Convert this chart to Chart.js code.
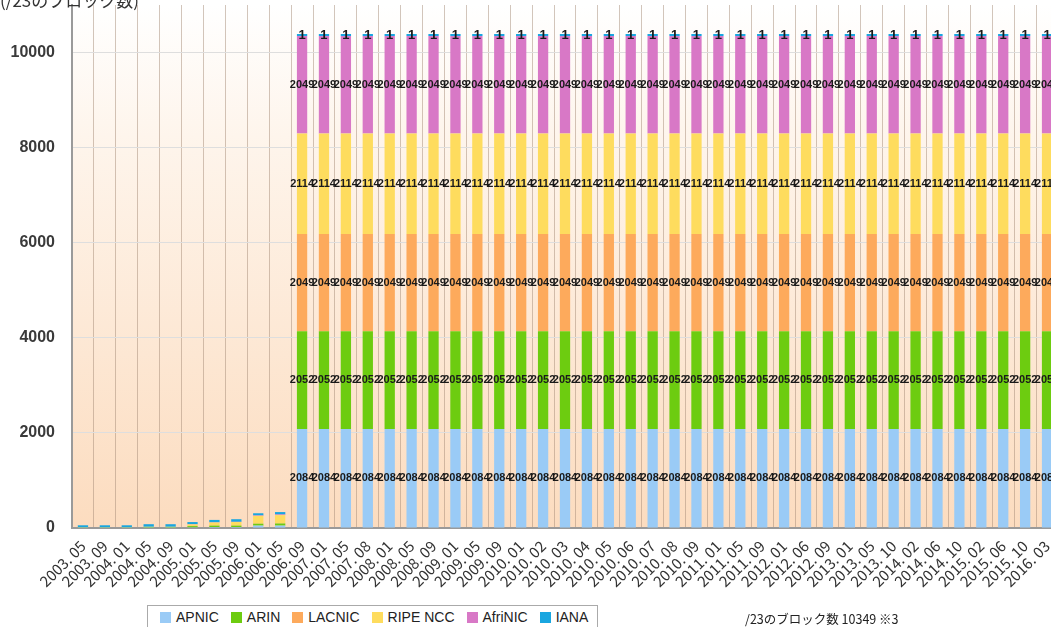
<!DOCTYPE html>
<html>
<head>
<meta charset="utf-8">
<script src="https://cdn.jsdelivr.net/npm/chart.js@4/dist/chart.umd.min.js"></script>
<style>
  html, body { margin: 0; padding: 0; background: #fff; overflow: hidden; }
  #wrap { position: relative; width: 1051px; height: 627px; overflow: hidden; }
  #c { position: absolute; left: 0; top: 0; }
  #title { position: absolute; left: 0; top: -13px; font: 17px "Noto Sans CJK JP", sans-serif; color: #333; }
  #legend { position: absolute; left: 147px; top: 605px; width: 451px; height: 30px; border: 1px solid #aaa; background: #fff; padding-left: 12px; box-sizing: border-box; font: 14px "Liberation Sans", Arial, sans-serif; color: #222; white-space: nowrap; }
  #legend span.item { display: inline-block; margin-right: 12px; line-height: 22px; }
  #legend span.sq { display: inline-block; width: 11px; height: 11px; margin-right: 5px; vertical-align: -1px; }
  #note { position: absolute; left: 745px; top: 609px; font: 12.5px "Noto Sans CJK JP", sans-serif; color: #222; }
</style>
</head>
<body>
<div id="wrap">
  <canvas id="c" width="1060" height="627"></canvas>
  <div id="title">(/23のブロック数)</div>
  <div id="legend"></div>
  <div id="note">/23のブロック数 10349 ※3</div>
</div>
<script>
/* ---- data ---- */
var months = [
  '2003. 05','2003. 09','2004. 01','2004. 05','2004. 09','2005. 01','2005. 05','2005. 09',
  '2006. 01','2006. 05','2006. 09','2007. 01','2007. 05','2007. 08','2008. 01','2008. 05',
  '2008. 09','2009. 01','2009. 05','2009. 09','2010. 01','2010. 02','2010. 03','2010. 04',
  '2010. 05','2010. 06','2010. 07','2010. 08','2010. 09','2011. 01','2011. 05','2011. 09',
  '2012. 01','2012. 06','2012. 09','2013. 01','2013. 05','2013. 10','2014. 02','2014. 06',
  '2014. 10','2015. 02','2015. 06','2015. 10','2016. 03'
];

// first 10 columns are the small early counts, the rest are the full /23 split
var N_FULL = 35;
function full(v) { var a = []; for (var i = 0; i < N_FULL; i++) a.push(v); return a; }

var apnic   = [5, 5, 5, 5, 5, 15, 20, 20, 50, 50].concat(full(2084));
var arin    = [5, 5, 5, 10, 10, 25, 30, 30, 40, 45].concat(full(2052));
var lacnic  = [0, 0, 0, 0, 0, 5, 5, 5, 5, 5].concat(full(2049));
var ripe    = [5, 5, 5, 10, 10, 30, 60, 70, 160, 170].concat(full(2114));
var afrinic = [0, 0, 0, 0, 0, 5, 5, 5, 10, 15].concat(full(2049));
var iana    = [30, 30, 25, 55, 55, 45, 50, 55, 45, 50].concat(full(1));

var yTicks = [0, 2000, 4000, 6000, 8000, 10000];

var series = [
  { label: 'APNIC',    data: apnic,   color: '#9acbf6' },
  { label: 'ARIN',     data: arin,    color: '#6dcc10' },
  { label: 'LACNIC',   data: lacnic,  color: '#fdaa5c' },
  { label: 'RIPE NCC', data: ripe,    color: '#fedc5e' },
  { label: 'AfriNIC',  data: afrinic, color: '#d878c6' },
  { label: 'IANA',     data: iana,    color: '#19a6e0' }
];

/* ---- plugins ---- */
var bgPlugin = {
  id: 'bg',
  beforeDraw: function(chart) {
    var a = chart.chartArea, ctx = chart.ctx;
    var g = ctx.createLinearGradient(0, a.top, 0, a.bottom);
    g.addColorStop(0, '#ffffff');
    g.addColorStop(0.25, '#fef5ec');
    g.addColorStop(1, '#fcdcbf');
    ctx.save();
    ctx.fillStyle = g;
    ctx.fillRect(a.left, a.top, a.right - a.left, a.bottom - a.top);
    ctx.restore();
  }
};

function colTotal(i) {
  var t = 0;
  series.forEach(function(s) { t += s.data[i]; });
  return t;
}

var valueLabels = {
  id: 'valueLabels',
  afterDatasetsDraw: function(chart) {
    var ctx = chart.ctx;
    ctx.save();
    ctx.fillStyle = '#1a1a1a';
    ctx.textAlign = 'center';
    ctx.textBaseline = 'middle';
    chart.data.datasets.forEach(function(ds, di) {
      // the tiny IANA count on top is printed a bit larger
      ctx.font = ds.label === 'IANA' ? 'bold 13px "Liberation Sans", Arial, sans-serif'
                                     : 'bold 11px "Liberation Sans", Arial, sans-serif';
      chart.getDatasetMeta(di).data.forEach(function(el, i) {
        if (colTotal(i) < 5000) return;
        ctx.fillText(String(ds.data[i]), el.x, (el.y + el.base) / 2);
      });
    });
    ctx.restore();
  }
};

/* ---- legend ---- */
var lg = document.getElementById('legend');
series.forEach(function(s) {
  var it = document.createElement('span');
  it.className = 'item';
  it.innerHTML = '<span class="sq" style="background:' + s.color + '"></span>' + s.label;
  lg.appendChild(it);
});

/* ---- chart ---- */
new Chart(document.getElementById('c'), {
  type: 'bar',
  data: {
    labels: months,
    datasets: series.map(function(s) {
      return {
        label: s.label,
        data: s.data,
        backgroundColor: s.color,
        borderWidth: 0,
        barPercentage: 0.47,
        categoryPercentage: 1,
        minBarLength: s.label === 'IANA' ? 2 : 0
      };
    })
  },
  options: {
    responsive: false,
    animation: false,
    layout: { autoPadding: false, padding: { top: 5, right: 2, left: 0, bottom: 0 } },
    plugins: { legend: { display: false }, tooltip: { enabled: false } },
    scales: {
      x: {
        stacked: true,
        grid: { color: 'rgba(165,140,120,0.5)', drawTicks: false, offset: true },
        border: { color: '#9a9a9a', width: 2 },
        ticks: {
          minRotation: 45, maxRotation: 45, autoSkip: false, padding: 9,
          color: '#333', font: { family: '"Noto Sans CJK JP", sans-serif', size: 15 }
        },
        afterFit: function(s) {
          s.height = 99;
          s.paddingLeft = 0; s.paddingRight = 0; s.paddingTop = 0; s.paddingBottom = 0;
        }
      },
      y: {
        stacked: true,
        min: 0, max: 11000,
        grid: { color: '#dedede', drawTicks: false },
        border: { color: '#9a9a9a', width: 2 },
        afterBuildTicks: function(s) { s.ticks = yTicks.map(function(v) { return { value: v }; }); },
        ticks: {
          padding: 17, color: '#3a3a3a',
          font: { family: '"Liberation Sans", Arial, sans-serif', size: 16, weight: 'bold' },
          callback: function(v) { return String(v); }
        },
        afterFit: function(s) {
          s.width = 72;
          s.paddingLeft = 0; s.paddingRight = 0; s.paddingTop = 0; s.paddingBottom = 0;
        }
      }
    }
  },
  plugins: [bgPlugin, valueLabels]
});
</script>
</body>
</html>
